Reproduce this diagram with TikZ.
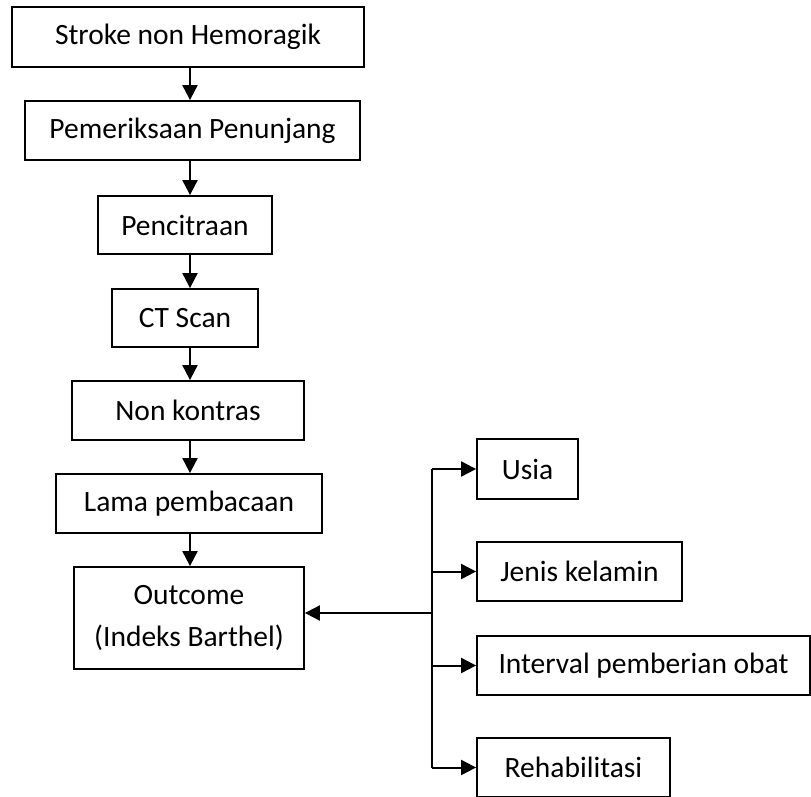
\documentclass[tikz,border=0pt]{standalone}
\usepackage{fontspec}
\setmainfont{Carlito}
\usetikzlibrary{arrows.meta}
\begin{document}
\begin{tikzpicture}[x=1pt,y=-1pt,
  box/.style={draw,line width=1.8pt,inner sep=0pt,align=center,
    font=\fontsize{29.5}{42}\selectfont},
  arr/.style={line width=2pt,-{Triangle[width=15pt,length=15pt]}},
  ln/.style={line width=2pt}]
\useasboundingbox (0,0) rectangle (811,796);
\node[box,minimum width=352pt,minimum height=60pt] (b1) at (188,37) {Stroke non Hemoragik};
\node[box,minimum width=335pt,minimum height=59pt] (b2) at (192.5,130.5) {Pemeriksaan Penunjang};
\node[box,minimum width=174pt,minimum height=58pt] (b3) at (185,225) {Pencitraan};
\node[box,minimum width=146pt,minimum height=58pt] (b4) at (185,318) {CT Scan};
\node[box,minimum width=232pt,minimum height=59pt] (b5) at (188,410.5) {Non kontras};
\node[box,minimum width=266pt,minimum height=59pt] (b6) at (189,503.5) {Lama pembacaan};
\node[box,minimum width=230pt,minimum height=102pt] (b7) at (189,618) {Outcome\\(Indeks Barthel)};
\node[box,minimum width=101pt,minimum height=60pt] (f1) at (527.5,469) {Usia};
\node[box,minimum width=205pt,minimum height=59pt] (f2) at (579.5,571.5) {Jenis kelamin};
\node[box,minimum width=333pt,minimum height=59pt] (f3) at (643.5,665.5) {Interval pemberian obat};
\node[box,minimum width=193pt,minimum height=59pt] (f4) at (573.5,767.5) {Rehabilitasi};
\coordinate (xa) at (190,0);
\coordinate (xb) at (432,0);
\coordinate (jn) at (432,613);
\foreach \a/\b in {b1/b2,b2/b3,b3/b4,b4/b5,b5/b6,b6/b7}
  \draw[arr] (\a.south -| xa) -- (\b.north -| xa);
\draw[ln] (f1.west -| xb) -- (f4.west -| xb);
\draw[arr] (jn) -- (jn -| b7.east);
\foreach \f in {f1,f2,f3,f4}
  \draw[arr] (\f.west -| xb) -- (\f.west);
\end{tikzpicture}
\end{document}
